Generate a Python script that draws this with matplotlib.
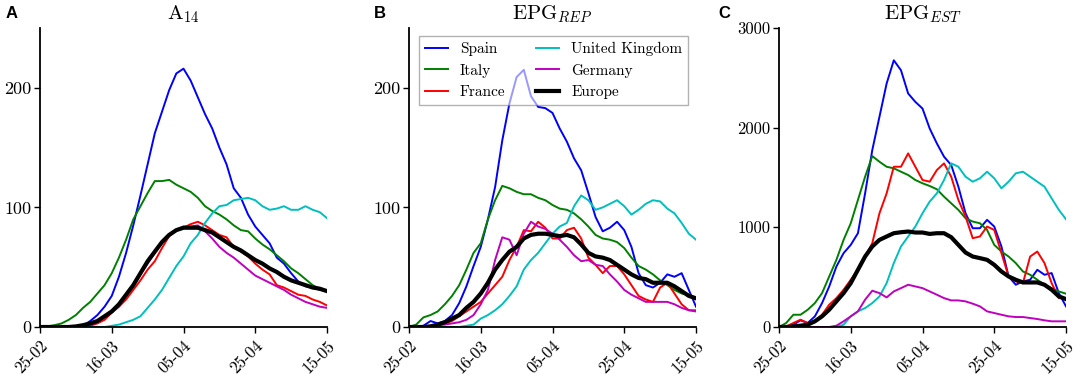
import numpy as np
import matplotlib
matplotlib.use('Agg')
import matplotlib.pyplot as plt

plt.rcParams['font.family'] = ['cmr10', 'DejaVu Serif']
plt.rcParams['mathtext.fontset'] = 'cm'
plt.rcParams['axes.formatter.use_mathtext'] = True

# days since 25-02 (one value every 2 days)
days = np.arange(0, 81, 2)
tick_days = [0, 20, 40, 60, 80]
tick_labels = ['25-02', '16-03', '05-04', '25-04', '15-05']
countries = ['Spain', 'Italy', 'France', 'United Kingdom', 'Germany', 'Europe']

# A14
a_spain = [0, 0, 0, 0, 0, 0.3, 1, 5, 10, 17, 26, 42, 62, 85, 110, 136, 162, 180, 198, 212,
           216, 206, 192, 178, 166, 150, 136, 116, 108, 94, 84, 77, 70, 58, 53, 45, 38, 34, 33, 31, 30]
a_italy = [0, 0.5, 1.5, 3, 6, 10, 16, 21, 28, 35, 45, 58, 73, 90, 101, 112, 122, 122, 123, 119,
           116, 113, 108, 101, 97, 94, 90, 85, 81, 80, 74, 69, 65, 60, 55, 49, 45, 40, 35, 32, 30]
a_france = [0, 0, 0, 0, 0, 0, 0.5, 1, 3, 6, 12, 17, 23, 31, 39, 48, 55, 66, 76, 81,
            83, 86, 88, 85, 81, 77, 75, 67, 63, 59, 53, 48, 44, 35, 33, 30, 27, 26, 23, 21, 18]
a_uk = [0, 0, 0, 0, 0, 0, 0, 0, 0, 0, 1, 2, 4, 6, 9, 16, 23, 31, 41, 51,
        59, 70, 77, 87, 95, 101, 102, 106, 107, 108, 106, 101, 98, 99, 101, 98, 98, 101, 98, 96, 91]
a_germany = [0, 0, 0, 0, 0, 0, 1, 2, 4, 9, 13, 17, 27, 35, 44, 53, 62, 71, 77, 81,
             84, 84, 85, 80, 74, 67, 62, 58, 53, 48, 43, 40, 37, 34, 31, 27, 24, 21, 19, 17, 16]
a_europe = [0, 0, 0, 0, 0, 0.5, 1.5, 3, 5, 9, 13, 19, 27, 35, 45, 55, 63, 71, 77, 81,
            83, 83, 83, 81, 79, 75, 71, 67, 64, 60, 56, 53, 49, 46, 42, 39, 37, 35, 33, 32, 30]

# EPG REP
b_spain = [0, 0.5, 1, 5, 3, 5, 10, 20, 34, 51, 67, 90, 117, 156, 187, 209, 215, 193, 184, 183,
           179, 166, 155, 141, 131, 112, 92, 80, 83, 88, 81, 67, 45, 35, 33, 37, 44, 42, 45, 31, 17]
b_italy = [0, 2, 8, 10, 13, 19, 26, 35, 48, 62, 70, 90, 106, 118, 116, 113, 111, 111, 108, 106,
           102, 99, 98, 95, 90, 84, 77, 74, 73, 71, 66, 58, 51, 48, 44, 39, 35, 31, 28, 27, 24]
b_france = [0, 0, 0.5, 1, 2, 3, 5, 9, 13, 17, 21, 28, 35, 42, 56, 67, 81, 80, 88, 83,
            74, 74, 81, 83, 74, 58, 52, 45, 51, 51, 44, 35, 26, 23, 21, 33, 37, 28, 19, 14, 14]
b_uk = [0, 0, 0, 0, 0, 0, 0, 0, 1, 2, 7, 10, 14, 19, 26, 34, 48, 56, 62, 70,
        78, 84, 87, 101, 110, 106, 98, 100, 103, 106, 101, 94, 98, 103, 106, 105, 99, 95, 87, 78, 73]
b_germany = [0, 0, 0.5, 1, 1.5, 2, 3, 4, 6, 10, 19, 31, 56, 75, 73, 60, 78, 88, 84, 82,
             78, 73, 67, 60, 55, 56, 52, 51, 44, 38, 31, 27, 24, 21, 21, 21, 21, 19, 16, 14, 13]
b_europe = [0, 0, 0, 0.5, 2, 4, 7, 10, 16, 21, 28, 37, 48, 56, 63, 67, 74, 77, 78, 78,
            77, 76, 77, 75, 69, 62, 59, 58, 56, 52, 48, 44, 41, 40, 37, 37, 37, 34, 30, 26, 24]

# EPG EST
c_spain = [0, 5, 23, 67, 40, 107, 240, 407, 607, 741, 824, 941, 1341, 1775, 2109, 2443, 2676, 2576, 2343, 2259,
           2192, 1992, 1842, 1709, 1625, 1408, 1141, 991, 991, 1075, 1008, 808, 507, 424, 457, 474, 574, 524, 541, 340, 207]
c_italy = [0, 40, 123, 123, 173, 240, 340, 507, 674, 874, 1041, 1275, 1508, 1715, 1658, 1608, 1592, 1558, 1525, 1475,
           1442, 1415, 1382, 1308, 1241, 1175, 1091, 1058, 1041, 974, 824, 757, 707, 641, 557, 524, 474, 424, 390, 357, 334]
c_france = [0, 5, 40, 73, 40, 57, 123, 224, 290, 374, 474, 574, 707, 841, 1141, 1341, 1608, 1608, 1742, 1608,
            1475, 1458, 1575, 1642, 1508, 1275, 1108, 891, 908, 1008, 974, 741, 507, 457, 440, 707, 757, 641, 440, 290, 290]
c_uk = [0, 0, 0, 0, 0, 0, 0, 0, 0, 23, 107, 157, 190, 240, 307, 440, 641, 808, 908, 1008,
        1141, 1258, 1341, 1475, 1642, 1608, 1508, 1458, 1492, 1558, 1492, 1392, 1458, 1542, 1558, 1508, 1458, 1408, 1291, 1175, 1081]
c_germany = [0, 0, 0, 0, 0, 0, 0, 0, 13, 57, 107, 157, 274, 364, 340, 297, 357, 390, 424, 407,
             390, 357, 324, 290, 267, 267, 257, 234, 207, 157, 140, 123, 107, 100, 100, 90, 80, 67, 57, 57, 57]
c_europe = [0, 0, 5, 13, 23, 57, 107, 174, 257, 340, 440, 574, 707, 808, 874, 908, 941, 951, 958, 948,
            948, 934, 941, 941, 901, 824, 747, 707, 691, 674, 624, 557, 507, 474, 447, 447, 447, 424, 374, 307, 280]

colors = ['b', 'g', 'r', 'c', 'm', 'k']
panels = [
    ('A', r'$\mathrm{A}_{14}$', [a_spain, a_italy, a_france, a_uk, a_germany, a_europe], 250, [0, 100, 200], 13),
    ('B', r'$\mathrm{EPG}_{REP}$', [b_spain, b_italy, b_france, b_uk, b_germany, b_europe], 250, [0, 100, 200], 13),
    ('C', r'$\mathrm{EPG}_{EST}$', [c_spain, c_italy, c_france, c_uk, c_germany, c_europe], 3000, [0, 1000, 2000, 3000], 12),
]
lefts = [40, 409, 779]
letter_x = [6, 374, 718]

fig = plt.figure(figsize=(10.84, 3.78), dpi=100)
for i, (letter, title, series, ymax, yticks, yfs) in enumerate(panels):
    ax = fig.add_axes([lefts[i] / 1084, 51 / 378, 287 / 1084, 299 / 378])
    for vals, col, name in zip(series, colors, countries):
        lw = 3 if col == 'k' else 1.4
        ax.plot(days, vals, color=col, linewidth=lw, label=name)
    ax.set_xlim(0, 80)
    ax.set_ylim(0, ymax)
    ax.set_xticks(tick_days)
    ax.set_xticklabels(tick_labels, rotation=45, ha='right', rotation_mode='anchor', fontsize=12)
    ax.set_yticks(yticks)
    ax.set_yticklabels([str(t) for t in yticks], fontsize=yfs)
    ax.spines['top'].set_visible(False)
    ax.spines['right'].set_visible(False)
    ax.spines['left'].set_linewidth(1.3)
    ax.spines['bottom'].set_linewidth(1.3)
    ax.tick_params(length=4, width=1)
    ax.tick_params(axis='y', pad=2)
    ax.set_title(title, fontsize=15, pad=6)
    fig.text(letter_x[i] / 1084, 1 - 18 / 378, letter, fontsize=12, fontweight='bold',
             family='Liberation Sans')
    if letter == 'B':
        ax.legend(ncol=2, fontsize=11, handlelength=1.5, columnspacing=2.0,
                  fancybox=False, framealpha=0.6, edgecolor='gray', loc='upper right')

fig.savefig('out.png', dpi=100)
